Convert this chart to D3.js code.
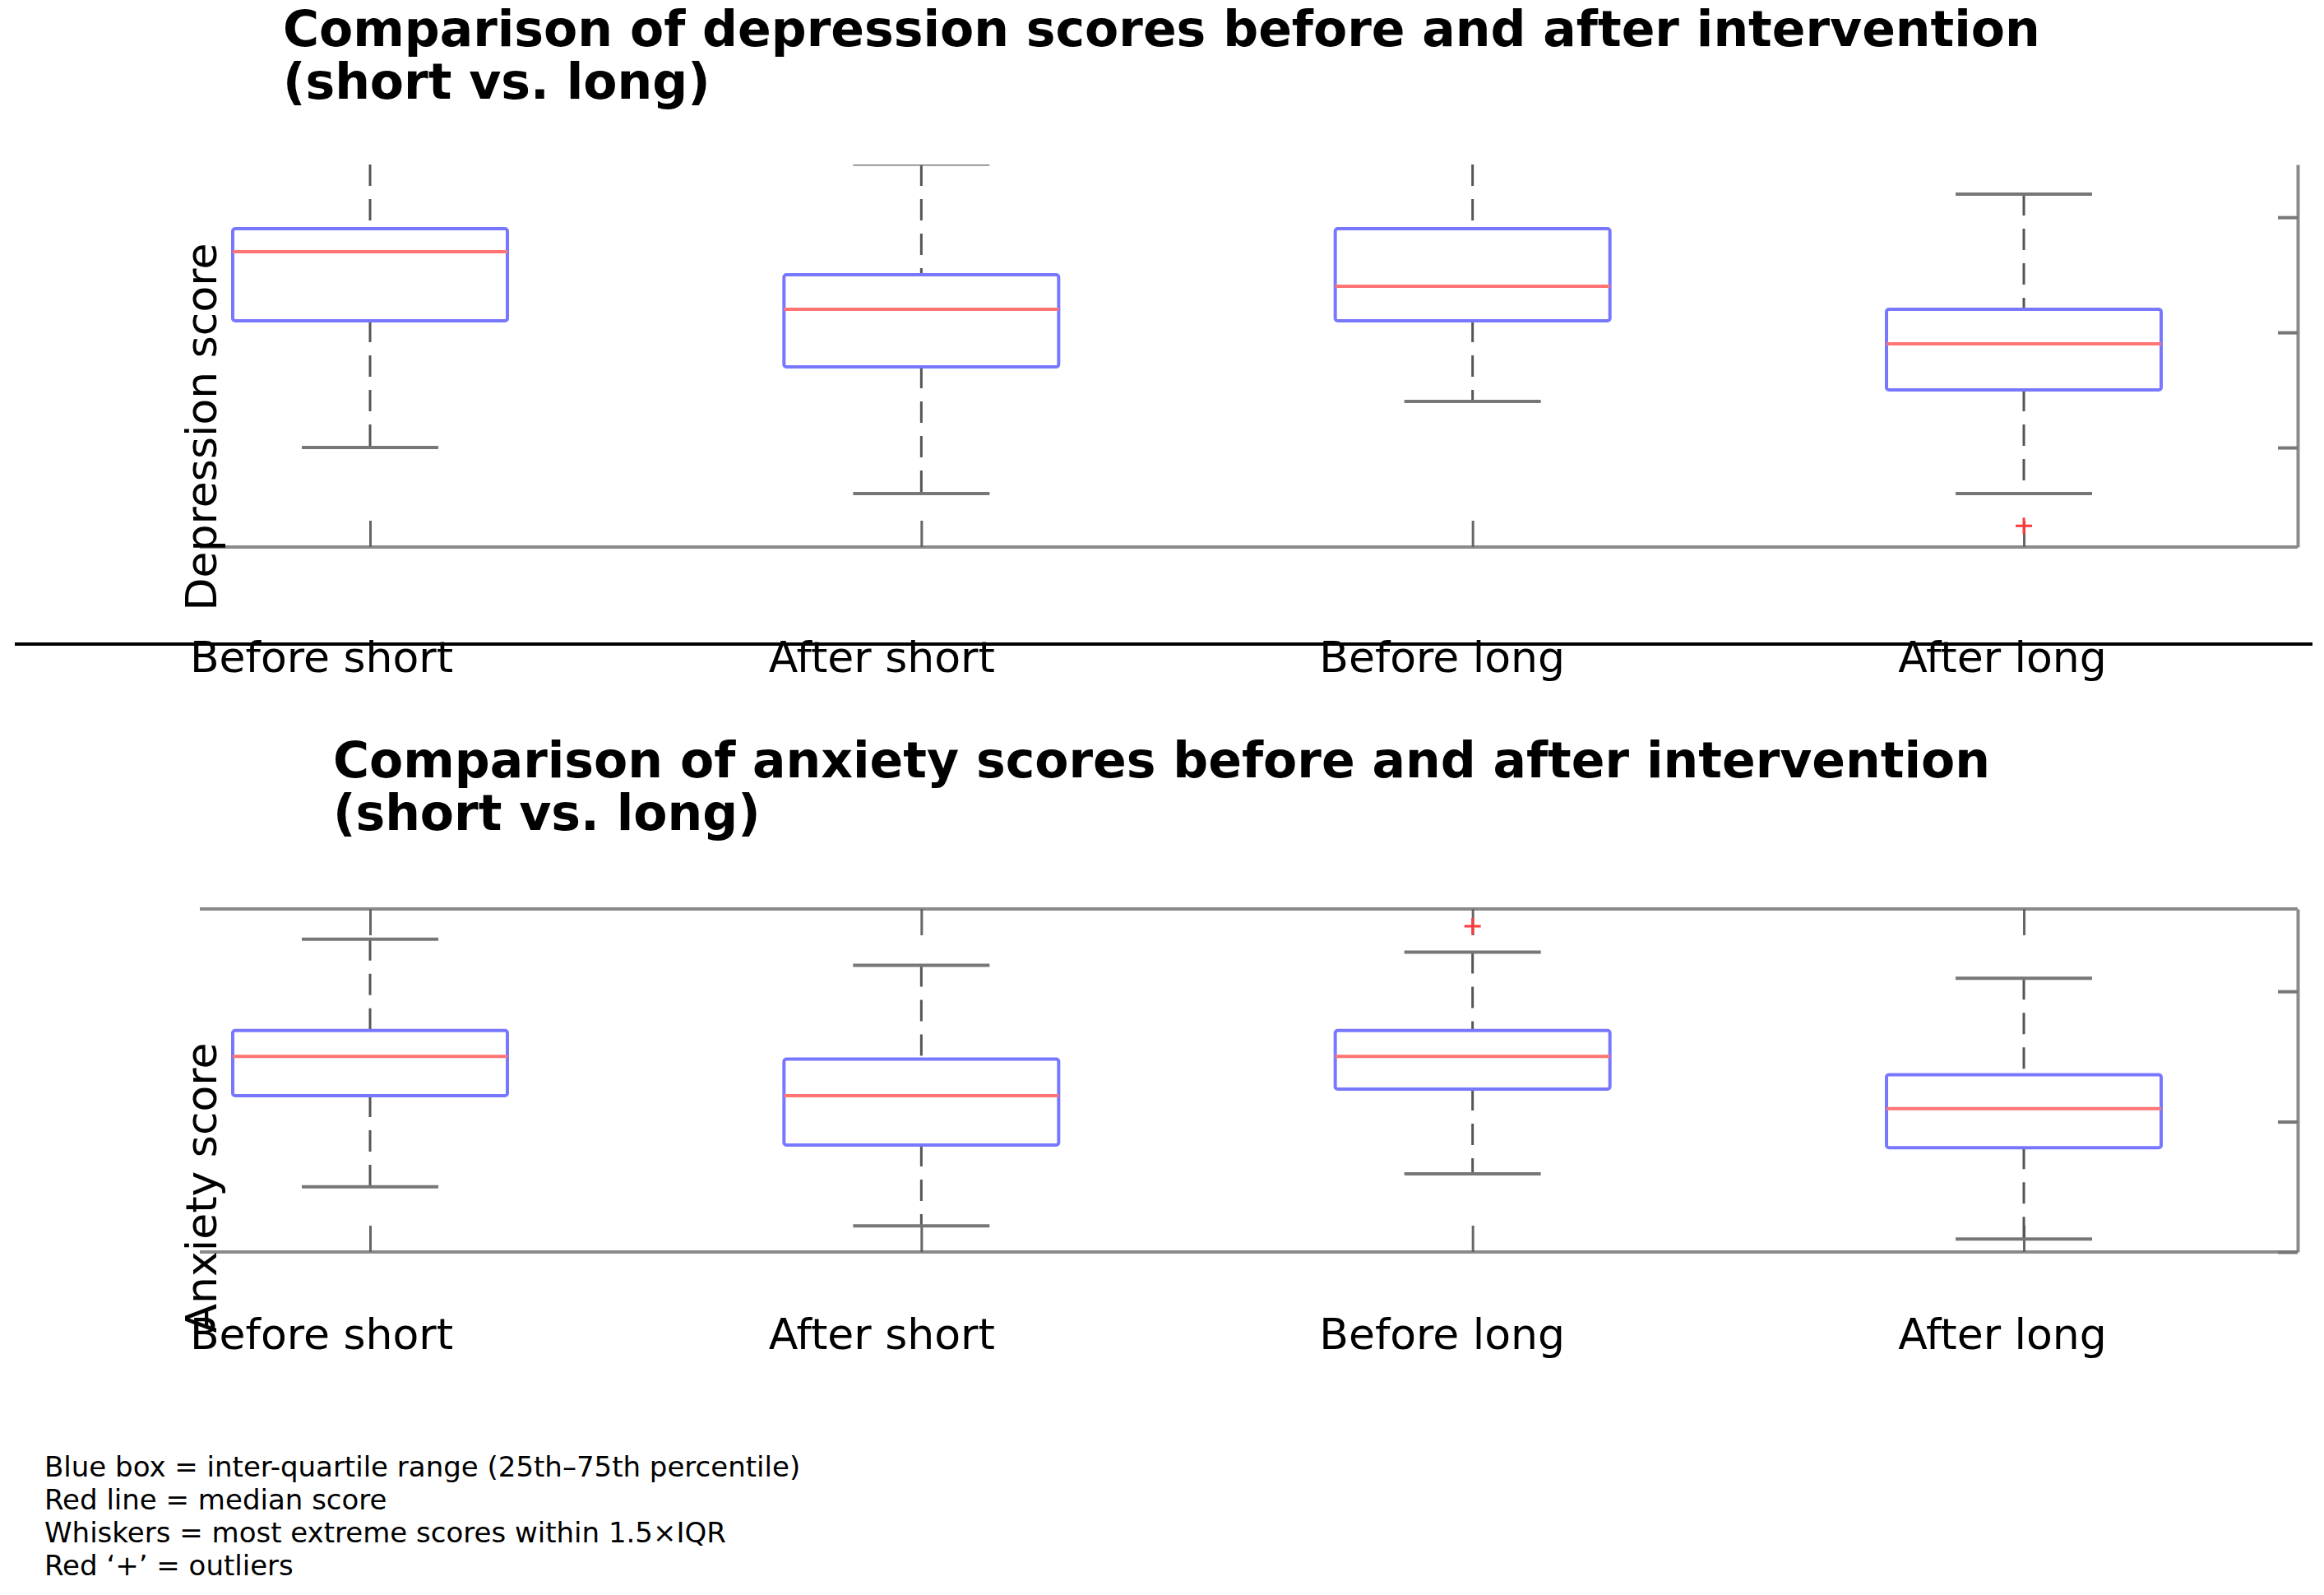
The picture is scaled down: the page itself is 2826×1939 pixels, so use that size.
<!DOCTYPE html>
<html>
<head>
<meta charset="utf-8">
<script src="https://cdn.jsdelivr.net/npm/d3@7"></script>
<style>
  body { margin: 0; background: #fff; }
  text { font-family: "DejaVu Sans", sans-serif; fill: #000; }
</style>
</head>
<body>
<div id="chart"></div>
<script>
// categories shared by both panels
const groups = ["Before short", "After short", "Before long", "After long"];

// depression scores - box stats
const depLow = [10, 8, 12, 8];
const depQ1 = [15.5, 13.5, 15.5, 12.5];
const depMedian = [18.5, 16, 17, 14.5];
const depQ3 = [19.5, 17.5, 19.5, 16];
const depHigh = [23.5, 22.31, 23.5, 21];
const depOutliers = [[], [], [], [6.6]];
const depTicks = [10, 15, 20];
const depTitle = ["Comparison of depression scores before and after intervention", "(short vs. long)"];

// anxiety scores
const anxLow = [2.5, 1, 3, 0.5];
const anxQ1 = [6, 4.1, 6.25, 4];
const anxMedian = [7.5, 6, 7.5, 5.5];
const anxQ3 = [8.5, 7.4, 8.5, 6.8];
const anxHigh = [12, 11, 11.5, 10.5];
const anxOutliers = [[], [], [12.5], []];
const anxTicks = [0, 5, 10];
const anxTitle = ["Comparison of anxiety scores before and after intervention", "(short vs. long)"];

// footnote
const notes = [
    "Blue box = inter-quartile range (25th\u201375th percentile)",
    "Red line = median score",
    "Whiskers = most extreme scores within 1.5\u00d7IQR",
    "Red \u2018+\u2019 = outliers"
];

const W = 2826, H = 1939;

const svg = d3.select("#chart").append("svg")
    .attr("width", W)
    .attr("height", H);

// box centres and label centres sit on slightly different grids
const x = d3.scalePoint().domain(groups).range([450, 2461]);
const xLab = d3.scalePoint().domain(groups).range([391, 2435]);

const left = 243, right = 2794;
const boxHalf = 167, capHalf = 83;

function drawPanel(p) {

    let y = d3.scaleLinear().domain(p.domain).range([p.bottom, p.top]);

    let g = svg.append("g");

    // clip so whiskers running past the top get cut
    g.append("clipPath").attr("id", p.id)
        .append("rect")
        .attr("x", left).attr("y", p.top)
        .attr("width", right - left).attr("height", p.bottom - p.top);

    // title
    g.selectAll(".title")
        .data(p.title)
        .enter().append("text")
        .attr("x", p.titleX)
        .attr("y", (d, i) => p.titleY + i * 64)
        .style("font-size", "60px")
        .style("font-weight", "bold")
        .text(d => d);

    // frame
    g.append("line")
        .attr("x1", left).attr("x2", right)
        .attr("y1", p.bottom).attr("y2", p.bottom)
        .attr("stroke", "#8a8a8a").attr("stroke-width", 4);
    if (p.topLine) {
        g.append("line")
            .attr("x1", left).attr("x2", right)
            .attr("y1", p.top).attr("y2", p.top)
            .attr("stroke", "#8a8a8a").attr("stroke-width", 4);
    }

    // right axis with inward ticks, no labels
    let yAxis = g.append("g")
        .attr("transform", "translate(" + right + ",0)")
        .call(d3.axisLeft(y).tickValues(p.ticks).tickSize(24).tickSizeOuter(0).tickFormat(""));
    yAxis.select(".domain").attr("stroke", "#8a8a8a").attr("stroke-width", 4);
    yAxis.selectAll(".tick line").attr("stroke", "#777").attr("stroke-width", 4);

    // x ticks pointing up from the bottom
    let xAxis = g.append("g")
        .attr("transform", "translate(0," + p.bottom + ")")
        .call(d3.axisTop(x).tickSize(32).tickFormat(""));
    xAxis.select(".domain").remove();
    xAxis.selectAll(".tick line").attr("stroke", "#666").attr("stroke-width", 3);

    if (p.topLine) {
        let xTop = g.append("g")
            .attr("transform", "translate(0," + p.top + ")")
            .call(d3.axisBottom(x).tickSize(32).tickFormat(""));
        xTop.select(".domain").remove();
        xTop.selectAll(".tick line").attr("stroke", "#666").attr("stroke-width", 3);
    }

    let marks = g.append("g").attr("clip-path", "url(#" + p.id + ")");

    let rows = groups.map((d, i) => ({
        name: d, low: p.low[i], q1: p.q1[i], med: p.med[i], q3: p.q3[i], high: p.high[i], out: p.out[i]
    }));

    // whiskers (dashes laid from the cap end towards the box)
    marks.selectAll(".wup")
        .data(rows)
        .enter().append("line")
        .attr("x1", d => x(d.name)).attr("x2", d => x(d.name))
        .attr("y1", d => Math.max(y(d.high), p.top)).attr("y2", d => y(d.q3))
        .attr("stroke", "#555").attr("stroke-width", 3)
        .attr("stroke-dasharray", "26,16");

    marks.selectAll(".wdown")
        .data(rows)
        .enter().append("line")
        .attr("x1", d => x(d.name)).attr("x2", d => x(d.name))
        .attr("y1", d => y(d.q1)).attr("y2", d => y(d.low))
        .attr("stroke", "#555").attr("stroke-width", 3)
        .attr("stroke-dasharray", "26,16");

    // caps
    ["low", "high"].forEach(k => {
        marks.selectAll(".cap-" + k)
            .data(rows)
            .enter().append("line")
            .attr("x1", d => x(d.name) - capHalf).attr("x2", d => x(d.name) + capHalf)
            .attr("y1", d => y(d[k])).attr("y2", d => y(d[k]))
            .attr("stroke", "#777").attr("stroke-width", 4);
    });

    // boxes
    marks.selectAll(".box")
        .data(rows)
        .enter().append("rect")
        .attr("x", d => x(d.name) - boxHalf)
        .attr("y", d => y(d.q3))
        .attr("width", boxHalf * 2)
        .attr("height", d => y(d.q1) - y(d.q3))
        .attr("rx", 3)
        .attr("fill", "#fff")
        .attr("stroke", "#7878ff").attr("stroke-width", 4);

    // medians
    marks.selectAll(".med")
        .data(rows)
        .enter().append("line")
        .attr("x1", d => x(d.name) - boxHalf).attr("x2", d => x(d.name) + boxHalf)
        .attr("y1", d => y(d.med)).attr("y2", d => y(d.med))
        .attr("stroke", "#ff7474").attr("stroke-width", 4);

    // outliers
    let outs = [];
    rows.forEach(r => r.out.forEach(v => outs.push({name: r.name, v: v})));
    marks.selectAll(".out")
        .data(outs)
        .enter().append("path")
        .attr("d", d => {
            let cx = x(d.name), cy = y(d.v);
            return "M" + (cx - 10) + "," + cy + "H" + (cx + 10) + "M" + cx + "," + (cy - 10) + "V" + (cy + 10);
        })
        .attr("stroke", "#ff3a3a").attr("stroke-width", 3).attr("fill", "none");

    // category labels
    g.selectAll(".xlab")
        .data(groups)
        .enter().append("text")
        .attr("x", d => xLab(d))
        .attr("y", p.labelY)
        .attr("text-anchor", "middle")
        .style("font-size", "52px")
        .text(d => d);

    // y label
    g.append("text")
        .attr("transform", "translate(263," + p.yLabelMid + ") rotate(-90)")
        .attr("text-anchor", "middle")
        .style("font-size", "52px")
        .text(p.yLabel);
}

drawPanel({
    id: "clipDep", title: depTitle, titleX: 344, titleY: 56,
    top: 200, bottom: 665, domain: [5.68, 22.29], ticks: depTicks, topLine: false,
    low: depLow, q1: depQ1, med: depMedian, q3: depQ3, high: depHigh, out: depOutliers,
    labelY: 817, yLabel: "Depression score", yLabelMid: 519
});

drawPanel({
    id: "clipAnx", title: anxTitle, titleX: 405, titleY: 945,
    top: 1105, bottom: 1522, domain: [0, 13.16], ticks: anxTicks, topLine: true,
    low: anxLow, q1: anxQ1, med: anxMedian, q3: anxQ3, high: anxHigh, out: anxOutliers,
    labelY: 1640, yLabel: "Anxiety score", yLabelMid: 1444
});

// black rule between the panels
svg.append("line")
    .attr("x1", 18).attr("x2", 2812)
    .attr("y1", 783).attr("y2", 783)
    .attr("stroke", "#000").attr("stroke-width", 4);

// footnote
svg.selectAll(".note")
    .data(notes)
    .enter().append("text")
    .attr("x", 54)
    .attr("y", (d, i) => 1795 + i * 40)
    .style("font-size", "34px")
    .text(d => d);
</script>
</body>
</html>
